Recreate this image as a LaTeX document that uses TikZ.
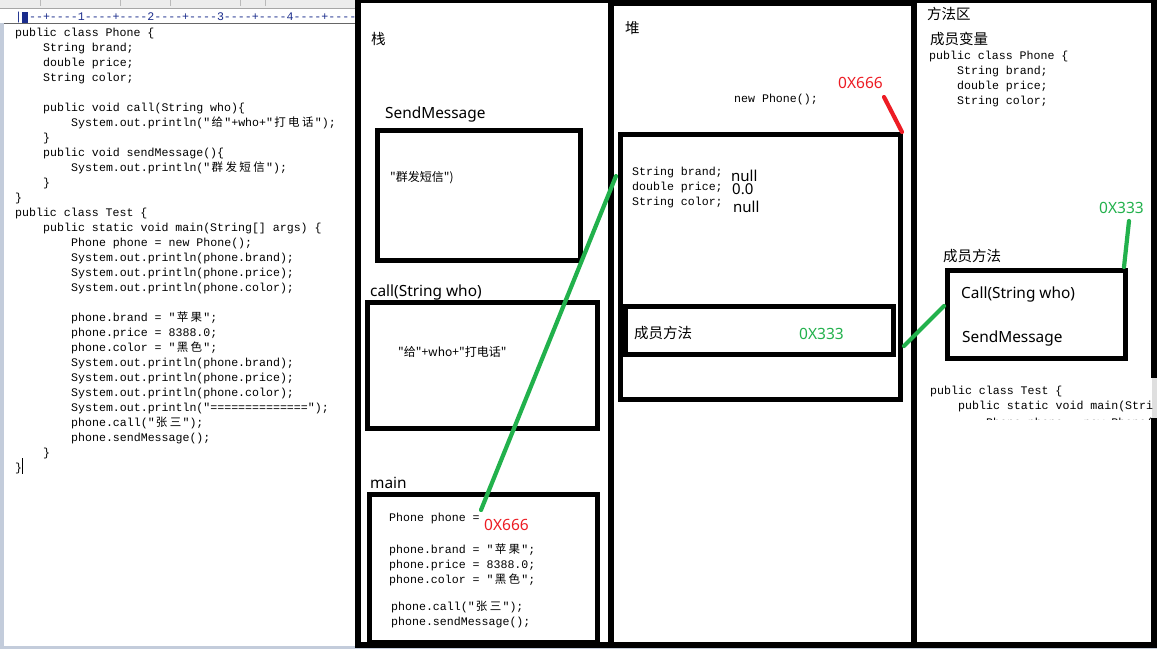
\documentclass[tikz,border=0pt]{standalone}
\usepackage{fontspec}
\setmonofont{Liberation Mono}
\newfontfamily\cjk{Noto Sans CJK SC}
\newfontfamily\lat{Noto Sans}
\usetikzlibrary{fit}
\definecolor{pgreen}{HTML}{22B14C}
\definecolor{pred}{HTML}{ED1C24}
\definecolor{rulerblue}{HTML}{1A2C8C}
\definecolor{edgeblue}{HTML}{C3CCDB}
\definecolor{toolgray}{HTML}{ECECEC}
\newcommand\zc[1]{\makebox[13.92pt][c]{\cjk\fontsize{11.5}{12}\selectfont #1}}
\begin{document}
\begin{tikzpicture}[x=1pt,y=-1pt,
  code/.style={font=\ttfamily\fontsize{11.6}{14}\selectfont, anchor=base west, inner sep=0pt},
  zhsmall/.style={font=\cjk\fontsize{12}{14}\selectfont, anchor=base west, inner sep=0pt},
  zhlabel/.style={font=\cjk\fontsize{14.5}{16}\selectfont, anchor=base west, inner sep=0pt},
  enlabel/.style={font=\lat\fontsize{15.4}{17}\selectfont, anchor=base west, inner sep=0pt},
  valtext/.style={font=\lat\fontsize{15}{17}\selectfont, anchor=base west, inner sep=0pt},
  addr/.style={font=\lat\fontsize{15.5}{17}\selectfont, anchor=base west, inner sep=0pt},
  panel/.style={draw=black, line width=6pt},
  frame/.style={draw=black, line width=5pt, inner sep=0pt},
  link/.style={line width=4.2pt, line cap=round},
]
\useasboundingbox (0,0) rectangle (1157,649);
\fill[white] (0,0) rectangle (1157,649);

% ---------- editor chrome ----------
\fill[toolgray] (0,0) rectangle (357,8);
\draw[gray!70, line width=0.8pt] (0,8) -- (357,8);
\foreach \sx in {40,120,170,240,265}{\draw[gray!55, line width=0.8pt] (\sx,0) -- (\sx,6);}
\fill[edgeblue] (0,23) rectangle (4,649);
\fill[rulerblue] (22,12) rectangle (28,23);
\begin{scope}
  \clip (0,8) rectangle (356,23);
  \node[code, text=rulerblue] (ruler) at (15,20) {|---+----1----+----2----+----3----+----4----+----};
\end{scope}
\draw[gray!80!black, line width=1pt] (4,23) -- (357,23);
\fill[edgeblue] (0,646) rectangle (1157,649);

% ---------- editor code ----------
\node[code] (e1)  at (15,36)  {public class Phone \{};
\node[code] (e2)  at (43,51)  {String brand;};
\node[code] (e3)  at (43,66)  {double price;};
\node[code] (e4)  at (43,81)  {String color;};
\node[code] (e6)  at (43,111) {public void call(String who)\{};
\node[code] (e7)  at (71,126) {System.out.println("\zc{给}"+who+"\zc{打}\zc{电}\zc{话}");};
\node[code] (e8)  at (43,141) {\}};
\node[code] (e9)  at (43,156) {public void sendMessage()\{};
\node[code] (e10) at (71,171) {System.out.println("\zc{群}\zc{发}\zc{短}\zc{信}");};
\node[code] (e11) at (43,186) {\}};
\node[code] (e12) at (15,201) {\}};
\node[code] (e13) at (15,216) {public class Test \{};
\node[code] (e14) at (43,231) {public static void main(String[] args) \{};
\node[code] (e15) at (71,246) {Phone phone = new Phone();};
\node[code] (e16) at (71,261) {System.out.println(phone.brand);};
\node[code] (e17) at (71,276) {System.out.println(phone.price);};
\node[code] (e18) at (71,291) {System.out.println(phone.color);};
\node[code] (e20) at (71,321) {phone.brand = "\zc{苹}\zc{果}";};
\node[code] (e21) at (71,336) {phone.price = 8388.0;};
\node[code] (e22) at (71,351) {phone.color = "\zc{黑}\zc{色}";};
\node[code] (e23) at (71,366) {System.out.println(phone.brand);};
\node[code] (e24) at (71,381) {System.out.println(phone.price);};
\node[code] (e25) at (71,396) {System.out.println(phone.color);};
\node[code] (e26) at (71,411) {System.out.println("==============");};
\node[code] (e27) at (71,426) {phone.call("\zc{张}\zc{三}");};
\node[code] (e28) at (71,441) {phone.sendMessage();};
\node[code] (e29) at (43,456) {\}};
\node[code] (e30) at (15,471) {\}};
\draw[line width=1.6pt] (22.5,458) -- (22.5,474);

% ---------- panels ----------
\draw[panel] (358,0) rectangle (611,644.5);
\draw[panel] (611,3) rectangle (914,644.5);
\draw[panel] (914,0) rectangle (1153.5,644.5);

% ---------- stack ----------
\node[zhlabel] (stacklbl) at (371,44) {栈};
\node[enlabel] (sendlbl) at (385,118) {SendMessage};
\node[frame, fit={(377.5,130.5) (580.5,260.5)}] (sendbox) {};
\node[zhsmall] (sendtxt) at (390,181) {"群发短信")};
\node[enlabel] (calllbl) at (370,296) {call(String who)};
\node[frame, fit={(367.5,302.5) (597.5,428)}] (callbox) {};
\node[zhsmall] (calltxt) at (398,356) {"给"+who+"打电话"};
\node[enlabel] (mainlbl) at (370,488) {main};
\node[frame, fit={(369,494.5) (597.5,642.5)}] (mainbox) {};
\node[code] (m1) at (389,521) {Phone phone =};
\node[addr, text=pred] (mainaddr) at (484,530) {0X666};
\node[code] (m2) at (389,553) {phone.brand = "\zc{苹}\zc{果}";};
\node[code] (m3) at (389,568) {phone.price = 8388.0;};
\node[code] (m4) at (389,583) {phone.color = "\zc{黑}\zc{色}";};
\node[code] (m5) at (391,610) {phone.call("\zc{张}\zc{三}");};
\node[code] (m6) at (391,625) {phone.sendMessage();};

% ---------- heap ----------
\node[zhlabel] (heaplbl) at (625,33) {堆};
\node[code] (newph) at (734,102) {new Phone();};
\node[addr, text=pred] (heapaddr) at (838,88) {0X666};
\node[frame, fit={(620.5,134.5) (900.5,399.5)}] (objbox) {};
\node[code] (h1) at (632,175) {String brand;};
\node[code] (h2) at (632,190) {double price;};
\node[code] (h3) at (632,205) {String color;};
\node[valtext] (v1) at (731,181) {null};
\node[valtext] (v2) at (732,194) {0.0};
\node[valtext] (v3) at (733,212) {null};
\node[frame, fit={(625.5,306) (893.5,354)}] (membox) {};
\node[zhlabel] (memlbl) at (634,338) {成员方法};
\node[addr, text=pgreen] (memaddr) at (799,339) {0X333};

% ---------- method area ----------
\node[zhlabel] (malbl) at (927,19) {方法区};
\node[zhlabel] (varlbl) at (930,44) {成员变量};
\node[code] (p1) at (929,59) {public class Phone \{};
\node[code] (p2) at (957,74) {String brand;};
\node[code] (p3) at (957,89) {double price;};
\node[code] (p4) at (957,104) {String color;};
\node[addr, text=pgreen] (maaddr) at (1099,213) {0X333};
\node[zhlabel] (mmlbl) at (943,261) {成员方法};
\node[frame, fit={(947.5,270.5) (1125.5,358.5)}] (methodbox) {};
\node[enlabel] (mcall) at (961,298) {Call(String who)};
\node[enlabel] (msend) at (962,342) {SendMessage};
\fill[white] (918,378) rectangle (1152,418);
\fill[gray!25] (1152,378) rectangle (1157,418);
\begin{scope}
  \clip (918,378) rectangle (1152.5,419);
  \node[code] (t1) at (930,394) {public class Test \{};
  \node[code] (t2) at (958,409) {public static void main(Strin};
  \node[code] (t3) at (986,426) {Phone phone = new Phone();};
\end{scope}

% ---------- connectors ----------
\coordinate (refA) at (481,510);
\coordinate (refB) at (616,176);
\draw[link, pgreen] (refA) -- (refB);
\coordinate (redA) at (884,97);
\coordinate (redB) at (902,132);
\draw[link, pred] (redA) -- (redB);
\coordinate (mA) at (904,346);
\coordinate (mB) at (944,306);
\draw[link, pgreen] (mA) -- (mB);
\coordinate (aA) at (1129,221);
\coordinate (aB) at (1124,267);
\draw[link, pgreen] (aA) -- (aB);
\end{tikzpicture}
\end{document}
